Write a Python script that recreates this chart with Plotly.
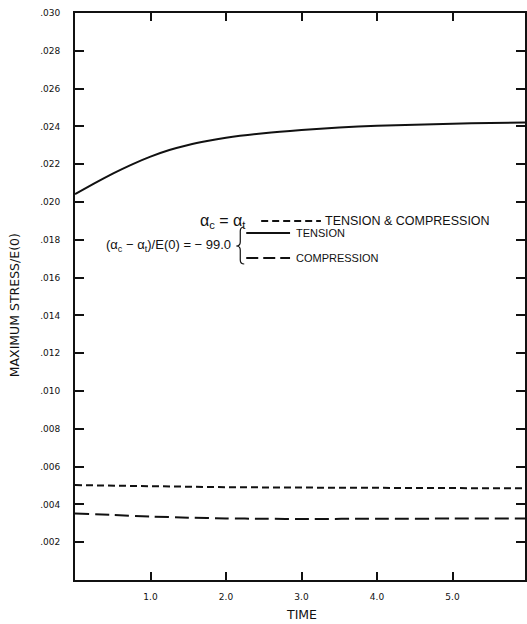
import plotly.graph_objects as go

# ---- data ----
time_tension = [0.0, 0.25, 0.5, 0.75, 1.0, 1.25, 1.5, 1.75, 2.0, 2.5, 3.0, 3.5, 4.0, 4.5, 5.0, 5.5, 5.96]
stress_tension = [0.02042, 0.02097, 0.02150, 0.02198, 0.02240, 0.02275, 0.02302, 0.02323, 0.02340,
                  0.02364, 0.02381, 0.02394, 0.02403, 0.02409, 0.02414, 0.02418, 0.02421]

time_equal = [0.0, 1.0, 2.0, 3.0, 4.0, 5.0, 5.96]
stress_equal = [0.00502, 0.00496, 0.00491, 0.00489, 0.00488, 0.00487, 0.00485]

time_comp = [0.0, 0.5, 1.0, 1.5, 2.0, 2.5, 3.0, 4.0, 5.0, 5.96]
stress_comp = [0.00352, 0.00344, 0.00336, 0.00330, 0.00326, 0.00324, 0.00323, 0.00324, 0.00325, 0.00326]

x_ticks = [1.0, 2.0, 3.0, 4.0, 5.0]
x_tick_labels = ["1.0", "2.0", "3.0", "4.0", "5.0"]
y_ticks = [0.002 * i for i in range(1, 16)]
y_tick_labels = [".002", ".004", ".006", ".008", ".010", ".012", ".014", ".016", ".018",
                 ".020", ".022", ".024", ".026", ".028", ".030"]

# ---- layout geometry ----
W, H = 527, 624
ML, MR, MT, MB = 75, 0, 13, 44
PW, PH = W - ML - MR, H - MT - MB


def px(x):
    return (x - ML) / PW


def py(y):
    return 1 - (y - MT) / PH


INK = "#111111"
FONT = "DejaVu Sans, Verdana, sans-serif"
LEG = "Liberation Sans, Arial, sans-serif"

ROW_TC, ROW_T, ROW_MID, ROW_C = 221, 233, 246, 258

fig = go.Figure()
fig.add_trace(go.Scatter(x=time_tension, y=stress_tension, mode="lines", name="TENSION",
                         line=dict(color=INK, width=2, shape="spline", smoothing=0.8),
                         showlegend=False))
fig.add_trace(go.Scatter(x=time_equal, y=stress_equal, mode="lines", name="TENSION & COMPRESSION",
                         line=dict(color=INK, width=2, dash="7px,4px"), showlegend=False))
fig.add_trace(go.Scatter(x=time_comp, y=stress_comp, mode="lines", name="COMPRESSION",
                         line=dict(color=INK, width=2, dash="14px,6px", shape="spline", smoothing=0.8),
                         showlegend=False))

axis_common = dict(showline=True, linecolor=INK, linewidth=2, mirror="ticks", ticks="inside",
                   tickcolor=INK, tickwidth=1.5, showgrid=False, zeroline=False,
                   tickfont=dict(family=FONT, size=9, color=INK))

fig.update_xaxes(range=[0, 5.96], tickvals=x_ticks, ticktext=x_tick_labels, ticklen=8,
                 ticklabelstandoff=7, **axis_common)
fig.update_yaxes(range=[0, 0.030], tickvals=y_ticks, ticktext=y_tick_labels, ticklen=9,
                 ticklabelstandoff=11, **axis_common)

annotations = [
    dict(text="TIME", x=px(303), y=py(614), font=dict(family=FONT, size=12.5, color=INK)),
    dict(text="MAXIMUM STRESS/E(0)", x=px(14), y=py(305), textangle=-90,
         font=dict(family=FONT, size=12.5, color=INK)),
    dict(text="α<sub>c</sub> = α<sub>t</sub>", x=px(249), y=py(ROW_TC), xanchor="right",
         font=dict(family=LEG, size=16, color=INK)),
    dict(text="TENSION & COMPRESSION", x=px(324), y=py(ROW_TC), xanchor="left",
         font=dict(family=LEG, size=12.5, color=INK)),
    dict(text="(α<sub>c</sub> − α<sub>t</sub>)/E(0) = − 99.0", x=px(234), y=py(ROW_MID), xanchor="right",
         font=dict(family=LEG, size=13, color=INK)),
    dict(text="TENSION", x=px(295), y=py(ROW_T), xanchor="left",
         font=dict(family=LEG, size=11, color=INK)),
    dict(text="COMPRESSION", x=px(295), y=py(ROW_C), xanchor="left",
         font=dict(family=LEG, size=11, color=INK)),
]
for a in annotations:
    a.update(xref="paper", yref="paper", showarrow=False)
    a.setdefault("xanchor", "center")
    a.setdefault("yanchor", "middle")

# curly brace grouping the two -99.0 entries
bt, bb, bm = ROW_T - 6, ROW_C + 6, ROW_MID
bx, tip, ex = 241, 237, 245
brace = (f"M {px(ex)} {py(bt)} Q {px(bx)} {py(bt)} {px(bx)} {py(bt + 4)} "
         f"L {px(bx)} {py(bm - 4)} Q {px(bx)} {py(bm)} {px(tip)} {py(bm)} "
         f"Q {px(bx)} {py(bm)} {px(bx)} {py(bm + 4)} "
         f"L {px(bx)} {py(bb - 4)} Q {px(bx)} {py(bb)} {px(ex)} {py(bb)}")

shapes = [
    dict(type="line", x0=px(262), x1=px(322), y0=py(ROW_TC), y1=py(ROW_TC),
         line=dict(color=INK, width=2, dash="7px,4px")),
    dict(type="line", x0=px(247), x1=px(291), y0=py(ROW_T), y1=py(ROW_T),
         line=dict(color=INK, width=2)),
    dict(type="line", x0=px(247), x1=px(291), y0=py(ROW_C), y1=py(ROW_C),
         line=dict(color=INK, width=2, dash="12px,5px")),
    dict(type="path", path=brace, line=dict(color=INK, width=1.2)),
]
for s in shapes:
    s.update(xref="paper", yref="paper")

fig.update_layout(width=W, height=H, margin=dict(l=ML, r=MR, t=MT, b=MB),
                  paper_bgcolor="white", plot_bgcolor="white",
                  annotations=annotations, shapes=shapes, showlegend=False)

fig.write_html("out.html", config={"displayModeBar": False},
               post_script="document.body.style.margin='0';document.body.style.overflow='hidden';")
